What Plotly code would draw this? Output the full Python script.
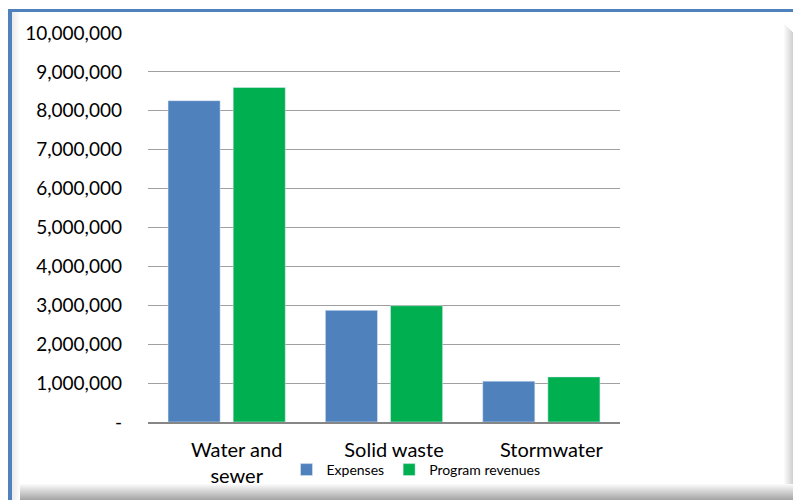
import plotly.graph_objects as go

categories = ["Water and<br>sewer", "Solid waste", "Stormwater"]
expenses = [8260000, 2870000, 1050000]
revenues = [8600000, 2990000, 1160000]
tick_vals = [0, 1000000, 2000000, 3000000, 4000000, 5000000, 6000000, 7000000, 8000000, 9000000, 10000000]
tick_text = ["-", "1,000,000", "2,000,000", "3,000,000", "4,000,000", "5,000,000",
             "6,000,000", "7,000,000", "8,000,000", "9,000,000", "10,000,000"]

W, H = 793, 500
L, R, T, B = 148, 620, 33, 422
FONT = "Lato"

def px(x):
    return (x - L) / (R - L)

def py(y):
    return (B - y) / (B - T)

fig = go.Figure()
fig.add_trace(go.Bar(name="Expenses", x=categories, y=expenses, marker_color="#4F81BD"))
fig.add_trace(go.Bar(name="Program revenues", x=categories, y=revenues, marker_color="#00B050"))

shapes = []
# bottom bevel shadow
for i in range(16):
    g = int(255 - (i + 1) * 5.5)
    shapes.append(dict(type="rect", xref="paper", yref="paper", layer="below",
                       x0=px(11 + i * 0.6), x1=px(W), y0=py(484 + i), y1=py(485 + i),
                       line_width=0, fillcolor=f"rgb({g},{g},{g})"))
# right bevel shadow
for i in range(9):
    g = int(255 - (i + 1) * 5)
    shapes.append(dict(type="rect", xref="paper", yref="paper", layer="below",
                       x0=px(784 + i), x1=px(785 + i), y0=py(484), y1=py(24 + i),
                       line_width=0, fillcolor=f"rgb({g},{g},{g})"))
# left inner shade
for i in range(8):
    g = int(235 + i * 2.5)
    shapes.append(dict(type="rect", xref="paper", yref="paper", layer="below",
                       x0=px(12 + i), x1=px(13 + i), y0=py(500), y1=py(12),
                       line_width=0, fillcolor=f"rgb({g},{g},{g})"))
# blue borders
shapes.append(dict(type="rect", xref="paper", yref="paper", layer="above",
                   x0=px(8), x1=px(W), y0=py(9), y1=py(12),
                   line_width=0, fillcolor="#4F81BD"))
shapes.append(dict(type="rect", xref="paper", yref="paper", layer="above",
                   x0=px(8), x1=px(12), y0=py(H), y1=py(9),
                   line_width=0, fillcolor="#4F81BD"))

fig.update_layout(
    width=W, height=H,
    margin=dict(l=L, r=W - R, t=T, b=H - B, autoexpand=False),
    paper_bgcolor="white", plot_bgcolor="white",
    barmode="group", bargap=0.172, bargroupgap=0.2,
    font=dict(family=FONT, color="black"),
    showlegend=True,
    legend=dict(orientation="h", x=px(416), xanchor="center", y=py(470), yanchor="middle",
                font=dict(size=14, family=FONT), bgcolor="rgba(0,0,0,0)",
                itemwidth=30, tracegroupgap=0),
    shapes=shapes,
    xaxis=dict(showgrid=False, showline=True, linecolor="#868686", linewidth=2,
               ticks="", tickfont=dict(size=20, family=FONT), ticklabelshift=10,
               ticklabelstandoff=9, fixedrange=True),
    yaxis=dict(range=[0, 10000000], tickvals=tick_vals, ticktext=tick_text,
               showgrid=True, gridcolor="#A0A0A0", gridwidth=1, zeroline=False,
               showline=False, ticks="", tickfont=dict(size=19, family=FONT),
               ticklabelstandoff=25, fixedrange=True),
)

fig.write_html("out.html")
